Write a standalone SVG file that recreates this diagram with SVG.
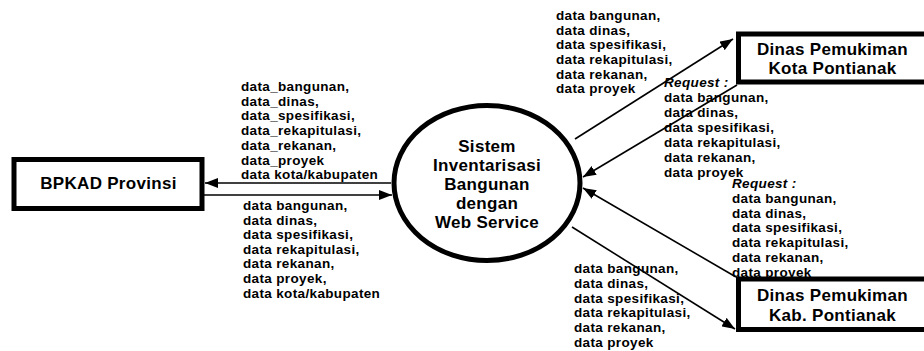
<svg xmlns="http://www.w3.org/2000/svg" width="924" height="351" viewBox="0 0 924 351">
<style>
.box{fill:#fff;stroke:#000;stroke-width:5}
.proc{fill:#fff;stroke:#000;stroke-width:5}
.title{font-family:"Liberation Sans",Arial,sans-serif;font-weight:bold;font-size:17px;letter-spacing:0.3px;fill:#000;text-anchor:middle}
.lbl{font-family:"Liberation Sans",Arial,sans-serif;font-weight:bold;font-size:13.5px;letter-spacing:0.35px;fill:#000}
.req{font-style:italic}
.flow{stroke:#000;stroke-width:1.6;fill:none;marker-end:url(#ah)}
</style>
<defs>
<marker id="ah" markerUnits="userSpaceOnUse" markerWidth="13" markerHeight="10" refX="13" refY="5" orient="auto">
<path d="M0,0 L13,5 L0,10 z" fill="#000"/>
</marker>
</defs>
<rect width="924" height="351" fill="#fff"/>
<g id="connectors">
<line class="flow" x1="391" y1="183" x2="205" y2="183"/>
<line class="flow" x1="204" y1="195" x2="392" y2="195"/>
<line class="flow" x1="575" y1="139" x2="733" y2="39"/>
<line class="flow" x1="737" y1="85" x2="583" y2="177"/>
<line class="flow" x1="736" y1="277" x2="583" y2="188"/>
<line class="flow" x1="572" y1="227" x2="735" y2="329"/>
</g>
<g id="label-ke-bpkad">
<text class="lbl" x="241" y="90.7">data_bangunan,</text>
<text class="lbl" x="241" y="105.5">data_dinas,</text>
<text class="lbl" x="241" y="120.2">data_spesifikasi,</text>
<text class="lbl" x="241" y="135">data_rekapitulasi,</text>
<text class="lbl" x="241" y="149.8">data_rekanan,</text>
<text class="lbl" x="241" y="164.5">data_proyek</text>
<text class="lbl" x="241" y="179.3">data kota/kabupaten</text>
</g>
<g id="label-dari-bpkad">
<text class="lbl" x="243" y="210">data bangunan,</text>
<text class="lbl" x="243" y="224.6">data dinas,</text>
<text class="lbl" x="243" y="239.2">data spesifikasi,</text>
<text class="lbl" x="243" y="253.8">data rekapitulasi,</text>
<text class="lbl" x="243" y="268.4">data rekanan,</text>
<text class="lbl" x="243" y="283">data proyek,</text>
<text class="lbl" x="243" y="297.6">data kota/kabupaten</text>
</g>
<g id="label-ke-kota">
<text class="lbl" x="556" y="20">data bangunan,</text>
<text class="lbl" x="556" y="34.7">data dinas,</text>
<text class="lbl" x="556" y="49.3">data spesifikasi,</text>
<text class="lbl" x="556" y="64">data rekapitulasi,</text>
<text class="lbl" x="556" y="78.7">data rekanan,</text>
<text class="lbl" x="556" y="93.3">data proyek</text>
</g>
<g id="label-dari-kota">
<text class="lbl req" x="664" y="87.3">Request :</text>
<text class="lbl" x="664" y="102.2">data bangunan,</text>
<text class="lbl" x="664" y="117.1">data dinas,</text>
<text class="lbl" x="664" y="132">data spesifikasi,</text>
<text class="lbl" x="664" y="146.9">data rekapitulasi,</text>
<text class="lbl" x="664" y="161.8">data rekanan,</text>
<text class="lbl" x="664" y="176.7">data proyek</text>
</g>
<g id="label-dari-kab">
<text class="lbl req" x="732" y="188.3">Request :</text>
<text class="lbl" x="732" y="203">data bangunan,</text>
<text class="lbl" x="732" y="217.7">data dinas,</text>
<text class="lbl" x="732" y="232.4">data spesifikasi,</text>
<text class="lbl" x="732" y="247.1">data rekapitulasi,</text>
<text class="lbl" x="732" y="261.8">data rekanan,</text>
<text class="lbl" x="732" y="276.5">data proyek</text>
</g>
<g id="label-ke-kab">
<text class="lbl" x="574" y="273.3">data bangunan,</text>
<text class="lbl" x="574" y="288">data dinas,</text>
<text class="lbl" x="574" y="302.7">data spesifikasi,</text>
<text class="lbl" x="574" y="317.4">data rekapitulasi,</text>
<text class="lbl" x="574" y="332.1">data rekanan,</text>
<text class="lbl" x="574" y="346.8">data proyek</text>
</g>
<g id="bpkad">
<rect class="box" x="14" y="159.5" width="188" height="49"/>
<text class="title" x="108.5" y="189">BPKAD Provinsi</text>
</g>
<g id="sistem">
<ellipse class="proc" cx="487" cy="183" rx="93" ry="77.5"/>
<text class="title" x="487" y="152">Sistem</text>
<text class="title" x="487" y="171">Inventarisasi</text>
<text class="title" x="487" y="190">Bangunan</text>
<text class="title" x="487" y="209">dengan</text>
<text class="title" x="487" y="228">Web Service</text>
</g>
<g id="kota">
<rect class="box" x="738.5" y="34" width="200" height="48"/>
<text class="title" x="832.5" y="55">Dinas Pemukiman</text>
<text class="title" x="832.5" y="74">Kota Pontianak</text>
</g>
<g id="kab">
<rect class="box" x="738.5" y="279" width="200" height="50.5"/>
<text class="title" x="832.5" y="301">Dinas Pemukiman</text>
<text class="title" x="832.5" y="321">Kab. Pontianak</text>
</g>
</svg>
